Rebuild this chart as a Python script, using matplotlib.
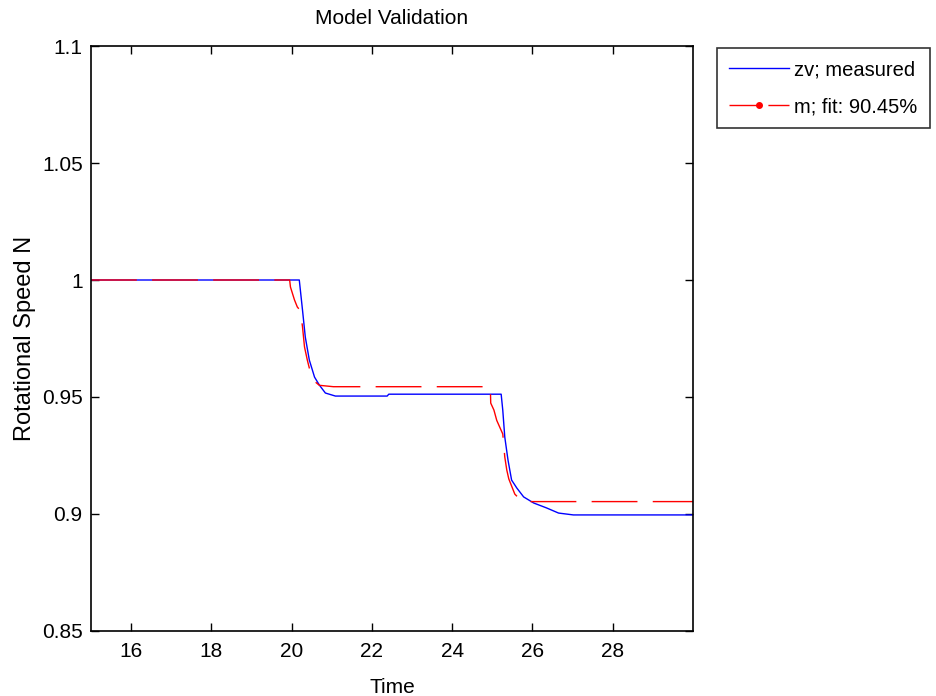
import matplotlib
matplotlib.use("Agg")
import matplotlib.pyplot as plt
from matplotlib.lines import Line2D

plt.rcParams["font.family"] = ["Liberation Sans", "DejaVu Sans"]

# measured response (zv)
t_meas = [15.0, 20.19, 20.27, 20.34, 20.44, 20.57, 20.69, 20.84, 21.09, 22.38, 22.42,
          25.22, 25.26, 25.31, 25.39, 25.48, 25.61, 25.78, 26.03, 26.35, 26.65, 27.02, 30.0]
y_meas = [1.0, 1.0, 0.9872, 0.9756, 0.9658, 0.9585, 0.9551, 0.9517, 0.9504, 0.9504, 0.9512,
          0.9512, 0.9444, 0.9329, 0.9231, 0.9145, 0.9111, 0.9073, 0.9047, 0.9026, 0.9004, 0.8996, 0.8996]

# model output (m)
t_fit = [15.0, 19.95, 19.97, 20.07, 20.14, 20.22, 20.27, 20.32, 20.39, 20.47, 20.59, 20.69, 21.04,
         24.95, 24.96, 25.04, 25.11, 25.26, 25.31, 25.36, 25.41, 25.56, 25.68, 25.81, 30.0]
y_fit = [1.0, 1.0, 0.997, 0.9915, 0.9885, 0.9868, 0.980, 0.9714, 0.9658, 0.9603, 0.9564, 0.955, 0.9544,
         0.9544, 0.9474, 0.9444, 0.940, 0.9342, 0.9244, 0.9188, 0.915, 0.9085, 0.9064, 0.9053, 0.9053]

x_ticks = [16, 18, 20, 22, 24, 26, 28]
y_ticks = [0.85, 0.9, 0.95, 1.0, 1.05, 1.1]
y_tick_labels = ["0.85", "0.9", "0.95", "1", "1.05", "1.1"]

FS = 15

fig = plt.figure(figsize=(9.37, 6.96), dpi=100)
ax = fig.add_axes([0.0971, 0.0934, 0.6425, 0.8405])

ax.plot(t_meas, y_meas, color="#0000ff", linewidth=1.0)
ax.plot(t_fit, y_fit, color="#ff0000", linewidth=1.0, dashes=(33, 11))

ax.set_xlim(15, 30)
ax.set_ylim(0.85, 1.1)
ax.set_xticks(x_ticks)
ax.set_yticks(y_ticks)
ax.set_yticklabels(y_tick_labels)
ax.tick_params(direction="in", length=6, width=1, top=True, right=True,
               labelsize=FS, pad=6)
ax.tick_params(axis="x", pad=8)
for s in ax.spines.values():
    s.set_linewidth(1.2)

ax.set_title("Model Validation", fontsize=FS, pad=16)
ax.set_xlabel("Time", fontsize=FS, labelpad=12)
ax.set_ylabel("Rotational Speed N", fontsize=FS + 2, labelpad=4)

handles = [
    Line2D([0], [0], color="#0000ff", linewidth=1.0),
    Line2D([0], [0], color="#ff0000", linewidth=1.0, dashes=(20, 8),
           marker=".", markersize=8, markevery=[1]),
]
leg = fig.legend(handles, ["zv; measured", "m; fit: 90.45%"],
                 loc="upper left", bbox_to_anchor=(0.765, 0.931),
                 fontsize=14.5, frameon=True, fancybox=False, shadow=False,
                 handlelength=3.0, handletextpad=0.25, borderpad=0.6,
                 labelspacing=0.9, borderaxespad=0)
leg.get_frame().set_edgecolor("black")
leg.get_frame().set_linewidth(1.2)

fig.savefig("out.png", dpi=100)
